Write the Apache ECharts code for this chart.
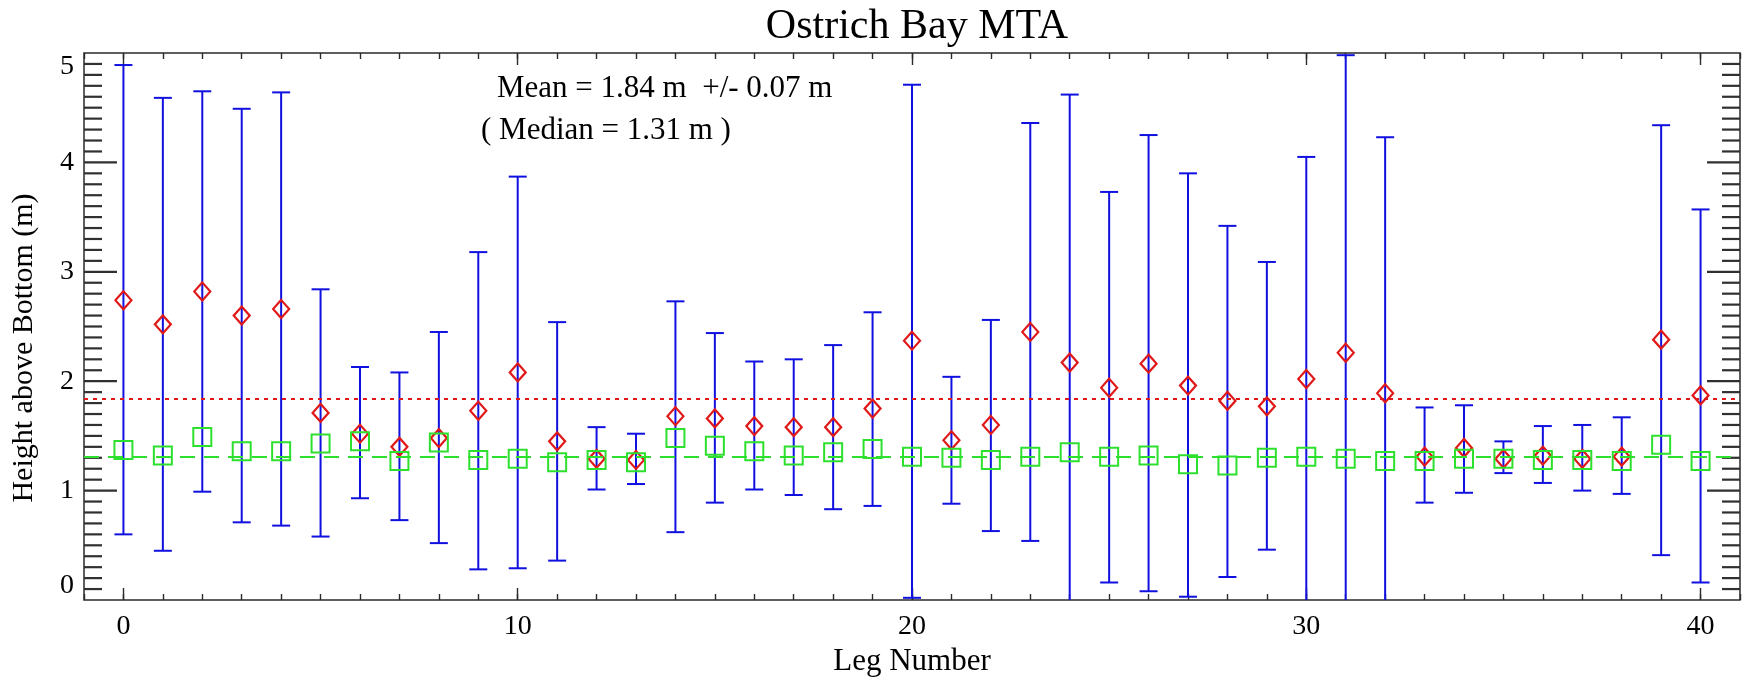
<!DOCTYPE html>
<html>
<head>
<meta charset="utf-8">
<script src="https://cdn.jsdelivr.net/npm/echarts@6/dist/echarts.min.js"></script>
<style>
html,body{margin:0;padding:0;background:#ffffff;}
#chart{width:1754px;height:682px;}
</style>
</head>
<body>
<div id="chart"></div>
<script>
// ---- data ----
const legNumbers = [0,1,2,3,4,5,6,7,8,9,10,11,12,13,14,15,16,17,18,19,20,21,22,23,24,25,26,27,28,29,30,31,32,33,34,35,36,37,38,39,40];
const meanHeights = [2.74,2.52,2.82,2.60,2.66,1.71,1.52,1.40,1.48,1.73,2.08,1.45,1.29,1.28,1.68,1.66,1.59,1.58,1.58,1.75,2.37,1.46,1.60,2.45,2.17,1.94,2.16,1.96,1.82,1.77,2.02,2.26,1.89,1.31,1.39,1.29,1.32,1.29,1.31,2.38,1.87];
const medianHeights = [1.37,1.32,1.49,1.36,1.36,1.43,1.45,1.27,1.44,1.28,1.29,1.26,1.28,1.26,1.48,1.41,1.36,1.32,1.35,1.38,1.31,1.30,1.28,1.31,1.35,1.31,1.32,1.24,1.23,1.30,1.31,1.29,1.27,1.27,1.29,1.29,1.28,1.28,1.27,1.42,1.27];
const lowerBounds = [0.60,0.45,0.99,0.71,0.68,0.58,0.93,0.73,0.52,0.28,0.29,0.36,1.01,1.06,0.62,0.89,1.01,0.96,0.83,0.86,0.02,0.88,0.63,0.54,-0.28,0.16,0.08,0.03,0.21,0.46,-0.02,-0.46,-0.45,0.89,0.98,1.16,1.07,1.00,0.97,0.41,0.16];
const upperBounds = [4.89,4.59,4.65,4.49,4.64,2.84,2.13,2.08,2.45,3.18,3.87,2.54,1.58,1.52,2.73,2.44,2.18,2.20,2.33,2.63,4.71,2.04,2.56,4.36,4.62,3.73,4.25,3.90,3.42,3.09,4.05,4.98,4.23,1.76,1.78,1.45,1.59,1.60,1.67,4.34,3.57];
const overallMean = 1.84;
const meanUncertainty = 0.07;
const overallMedian = 1.31;
const xTickLabels = [0,10,20,30,40];
const yTickLabels = [0,1,2,3,4,5];
const xRange = [-1, 41];
const yRange = [0, 5];
const yMinorStep = 0.1;

// ---- styling ----
const FONT = '"Liberation Serif", "Times New Roman", serif';
const BLUE = '#1010e0';
const RED = '#e01818';
const GREEN = '#2ee02e';
const FRAME = '#2a2a2a';
const YTICK = '#303030';

const xCats = [];
for (let v = xRange[0]; v <= xRange[1]; v++) xCats.push(String(v));
// y tick values (major + minor), placed through the y scale by a custom series
const yTickValues = [];
const nSteps = Math.round((yRange[1] - yRange[0]) / yMinorStep);
for (let k = 1; k < nSteps; k++) yTickValues.push(+(yRange[0] + k * yMinorStep).toFixed(2));

const chart = echarts.init(document.getElementById('chart'), null, {renderer: 'canvas'});

const minorXAxis = (pos, showLabels) => ({
  type: 'value', position: pos, min: xRange[0], max: xRange[1], interval: 1,
  axisLine: {show: false, onZero: false},
  axisTick: {show: true, inside: true, length: 6, lineStyle: {color: FRAME, width: 1.4}},
  splitLine: {show: false},
  axisLabel: showLabels ? {
    show: true, margin: 13, color: '#000', fontFamily: FONT, fontSize: 28,
    formatter: v => xTickLabels.indexOf(v) >= 0 ? String(v) : ''
  } : {show: false},
  name: showLabels ? 'Leg Number' : '',
  nameLocation: 'middle', nameGap: 44,
  nameTextStyle: {color: '#000', fontFamily: FONT, fontSize: 31}
});
const majorXAxis = (pos) => ({
  type: 'category', position: pos, data: xCats, boundaryGap: false,
  axisLine: {show: false, onZero: false},
  axisTick: {show: true, inside: true, length: 12,
    interval: (i, v) => xTickLabels.indexOf(Number(v)) >= 0,
    lineStyle: {color: FRAME, width: 1.4}},
  axisLabel: {show: false},
  splitLine: {show: false}
});

const option = {
  backgroundColor: '#ffffff',
  animation: false,
  title: {
    text: 'Ostrich Bay MTA', left: 912, top: 1, textAlign: 'center',
    textStyle: {fontFamily: FONT, fontSize: 42, fontWeight: 'normal', color: '#000'}
  },
  grid: {left: 84, right: 14, top: 53, bottom: 82, containLabel: false,
         show: true, borderColor: FRAME, borderWidth: 1.5, backgroundColor: 'rgba(0,0,0,0)'},
  xAxis: [minorXAxis('bottom', true), majorXAxis('bottom'), minorXAxis('top', false), majorXAxis('top')],
  yAxis: [{
    type: 'value', position: 'left', min: yRange[0], max: yRange[1], interval: 1,
    axisLine: {show: false, onZero: false},
    axisTick: {show: false},
    splitLine: {show: false},
    axisLabel: {
      show: true, margin: 10, color: '#000', fontFamily: FONT, fontSize: 28,
      formatter: v => yTickLabels.indexOf(v) >= 0 ? String(v) : '',
      verticalAlignMinLabel: 'bottom', verticalAlignMaxLabel: 'top'
    }
  }],
  graphic: [
    {type: 'text', left: 497, top: 73, silent: true,
     style: {text: 'Mean = ' + overallMean.toFixed(2) + ' m  +/- ' + meanUncertainty.toFixed(2) + ' m',
             font: '31px ' + FONT, fill: '#000'}},
    {type: 'text', left: 481, top: 115, silent: true,
     style: {text: '( Median = ' + overallMedian.toFixed(2) + ' m )',
             font: '31px ' + FONT, fill: '#000'}},
    {type: 'text', x: 24, y: 348, rotation: Math.PI / 2, silent: true,
     style: {text: 'Height above Bottom (m)', font: '30px ' + FONT, fill: '#000',
             align: 'center', verticalAlign: 'middle'}}
  ],
  series: [
    {
      type: 'custom', name: 'yTicks', xAxisIndex: 0, yAxisIndex: 0, silent: true, clip: false,
      data: yTickValues.map(v => [xRange[0], v, yTickLabels.indexOf(v) >= 0 ? 1 : 0]),
      encode: {x: 0, y: 1},
      renderItem: (params, api) => {
        const v = api.value(1);
        const len = api.value(2) ? 33 : 18;
        const pL = api.coord([xRange[0], v]);
        const pR = api.coord([xRange[1], v]);
        const st = {stroke: YTICK, lineWidth: 2.2, fill: null};
        return {type: 'group', children: [
          {type: 'line', shape: {x1: pL[0], y1: pL[1], x2: pL[0] + len, y2: pL[1]}, style: st},
          {type: 'line', shape: {x1: pR[0] - len, y1: pR[1], x2: pR[0], y2: pR[1]}, style: st}
        ]};
      },
      z: 1
    },
    {
      type: 'custom', name: 'range', xAxisIndex: 0, yAxisIndex: 0, clip: true,
      data: legNumbers.map((x, i) => [x, lowerBounds[i], upperBounds[i]]),
      encode: {x: 0, y: [1, 2]},
      renderItem: (params, api) => {
        const x = api.value(0);
        const pLo = api.coord([x, api.value(1)]);
        const pHi = api.coord([x, api.value(2)]);
        const hw = 9;
        const st = {stroke: BLUE, lineWidth: 2, fill: null};
        return {type: 'group', children: [
          {type: 'line', shape: {x1: pLo[0], y1: pLo[1], x2: pHi[0], y2: pHi[1]}, style: st},
          {type: 'line', shape: {x1: pLo[0] - hw, y1: pLo[1], x2: pLo[0] + hw, y2: pLo[1]}, style: st},
          {type: 'line', shape: {x1: pHi[0] - hw, y1: pHi[1], x2: pHi[0] + hw, y2: pHi[1]}, style: st}
        ]};
      },
      z: 2
    },
    {
      type: 'scatter', name: 'mean', xAxisIndex: 0, yAxisIndex: 0,
      data: legNumbers.map((x, i) => [x, meanHeights[i]]),
      symbol: 'diamond', symbolSize: [16, 18],
      itemStyle: {color: 'rgba(0,0,0,0)', borderColor: RED, borderWidth: 2.2, opacity: 1},
      markLine: {
        silent: true, symbol: 'none', label: {show: false},
        lineStyle: {color: RED, width: 2, type: [4, 5]},
        data: [{yAxis: overallMean}]
      },
      z: 3
    },
    {
      type: 'scatter', name: 'median', xAxisIndex: 0, yAxisIndex: 0,
      data: legNumbers.map((x, i) => [x, medianHeights[i]]),
      symbol: 'rect', symbolSize: 18,
      itemStyle: {color: 'rgba(0,0,0,0)', borderColor: GREEN, borderWidth: 2, opacity: 1},
      markLine: {
        silent: true, symbol: 'none', label: {show: false},
        lineStyle: {color: GREEN, width: 2, type: [15, 9]},
        data: [{yAxis: overallMedian}]
      },
      z: 4
    }
  ]
};
chart.setOption(option);
</script>
</body>
</html>
